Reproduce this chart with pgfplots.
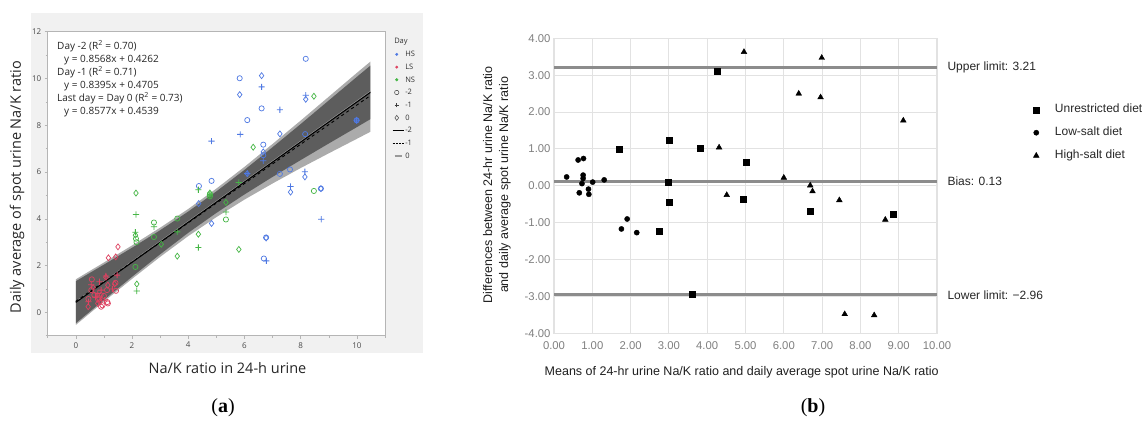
\documentclass[border=0pt]{standalone}
\usepackage{fontspec}
\setmainfont{Liberation Sans}
\newfontfamily\jmpfont{Open Sans}
\newfontfamily\capfont{Liberation Serif}
\usepackage{pgfplots}
\pgfplotsset{compat=1.18}

\definecolor{hsBlue}{HTML}{4F79E3}
\definecolor{lsRed}{HTML}{DE4160}
\definecolor{nsGreen}{HTML}{45B645}
\definecolor{panelBg}{HTML}{F1F1F1}
\definecolor{frameA}{HTML}{B5B5B5}
\definecolor{tickA}{HTML}{4A4A4A}
\definecolor{gridB}{HTML}{E2E2E2}
\definecolor{tickB}{HTML}{7F7F7F}
\definecolor{limitB}{HTML}{8C8C8C}

% filled cross, so the plus marks keep their colour when rasterised
\pgfdeclareplotmark{pluscross}{%
  \pgfpathrectangle{\pgfqpoint{-\pgfplotmarksize}{-0.4pt}}{\pgfqpoint{2\pgfplotmarksize}{0.8pt}}%
  \pgfpathrectangle{\pgfqpoint{-0.4pt}{-\pgfplotmarksize}}{\pgfqpoint{0.8pt}{2\pgfplotmarksize}}%
  \pgfusepathqfill}

\pgfplotsset{
  ptA/.style={forget plot, only marks, color=#1, line width=0.7pt, mark options={solid, draw=#1, fill=none}},
  circA/.style={ptA=#1, mark=o, mark size=2.6pt},
  plusA/.style={ptA=#1, mark=pluscross, mark size=3.1pt, mark options={solid, draw=none, fill=#1}},
  diamA/.style={ptA=#1, mark=diamond, mark size=3pt},
  ptB/.style={only marks, black,
    legend image code/.code={\draw[##1, mark repeat=2, mark phase=2] plot coordinates {(0pt,0pt)(5pt,0pt)(10pt,0pt)}; \path (22pt,0pt);}},
}

\begin{document}
\begin{tikzpicture}
\path[use as bounding box] (0pt,0pt) rectangle (1142pt,421pt);
\fill[panelBg] (31pt,68pt) rectangle (423pt,408pt);

% ---------- (a) regression by day ----------
\begin{axis}[
  at={(47.7pt,85.3pt)}, anchor=south west,
  scale only axis, width=337.3pt, height=304pt,
  xmin=-1, xmax=11, ymin=-1, ymax=12,
  xtick={0,2,...,10}, ytick={0,2,...,12},
  minor xtick={-1,1,...,11}, minor ytick={-1,1,...,11},
  tick align=outside, xtick pos=left, ytick pos=left,
  major tick length=3pt, minor tick length=2pt,
  tick style={frameA, line width=0.5pt},
  axis line style={frameA, line width=0.6pt},
  axis background/.style={fill=white},
  tick label style={font=\jmpfont\fontsize{8}{9}\selectfont, text=tickA},
  /pgf/number format/assume math mode=true,
  xlabel={Na/K ratio in 24-h urine},
  ylabel={Daily average of spot urine Na/K ratio},
  label style={font=\jmpfont\fontsize{14.5}{16}\selectfont, text=black!85},
  xlabel style={at={(axis description cs:0.533,0)}, anchor=center, yshift=-32.3pt},
  ylabel style={at={(axis description cs:-0.091,0.489)}, anchor=center},
  legend style={at={(1.012,0.99)}, anchor=north west, draw=none, fill=none,
    font=\jmpfont\fontsize{7.5}{8}\selectfont, text=black!80, row sep=3.2pt,
    nodes={inner sep=1pt, text height=6pt, text depth=1.5pt}},
  legend cell align=left,
]
% HS (blue)
\addplot[circA=hsBlue] coordinates {(4.38,5.40)(4.83,5.62)(5.83,10.01)(6.10,8.22)(6.61,8.72)(6.67,7.17)(6.67,6.72)(7.26,5.92)(7.62,6.11)(8.18,10.84)(8.16,7.62)(9.99,8.21)(8.72,5.29)(6.77,3.20)(6.69,2.30)};
\addplot[plusA=hsBlue] coordinates {(4.83,7.32)(5.85,7.61)(6.61,9.64)(7.26,8.66)(8.18,9.28)(6.67,6.48)(7.64,5.38)(8.15,6.01)(8.73,3.98)(6.78,2.20)(9.99,8.21)(6.10,5.93)};
\addplot[diamA=hsBlue] coordinates {(5.83,9.31)(6.61,10.12)(7.26,7.63)(8.18,9.11)(6.67,6.86)(7.64,5.14)(8.15,5.79)(8.72,5.29)(9.99,8.21)(6.10,5.93)(4.37,4.65)(4.83,3.80)(6.77,3.18)};
% NS (green)
\addplot[circA=nsGreen] coordinates {(2.14,3.15)(2.16,3.00)(2.12,1.94)(2.78,3.84)(2.78,3.22)(3.61,4.01)(4.77,4.96)(5.34,3.97)(8.47,5.19)(4.77,5.05)};
\addplot[plusA=nsGreen] coordinates {(2.14,4.18)(2.12,3.42)(2.17,0.91)(2.78,3.66)(3.61,3.44)(4.36,2.77)(4.36,5.24)(5.34,4.29)(5.80,5.55)(4.77,5.02)};
\addplot[diamA=nsGreen] coordinates {(2.14,5.10)(2.12,3.30)(2.17,1.21)(3.04,2.91)(3.61,2.40)(4.36,3.34)(4.77,5.10)(5.34,4.70)(5.80,2.69)(6.31,7.06)(8.47,9.24)};
% LS (red)
\addplot[circA=lsRed] coordinates {(0.57,1.41)(1.41,1.26)(1.11,0.95)(1.43,0.92)(0.45,0.57)(0.90,0.24)(1.14,0.38)(1.12,0.44)(0.66,0.74)(0.84,0.60)(0.55,0.95)(0.80,0.55)(1.00,0.70)(0.95,0.30)};
\addplot[plusA=lsRed] coordinates {(0.55,1.18)(0.84,1.31)(1.47,1.59)(1.02,0.52)(0.78,0.81)(1.07,1.55)(0.70,0.65)(0.45,0.45)(1.30,1.00)(0.90,0.95)};
\addplot[diamA=lsRed] coordinates {(1.50,2.80)(1.16,2.33)(1.42,2.37)(1.38,1.21)(0.44,0.24)(0.78,0.38)(0.90,0.74)(1.14,1.16)(1.07,1.50)(0.62,1.05)(0.85,0.45)};
% confidence bands (outer union, inner overlap)
\addplot[forget plot, draw=none, fill=black, fill opacity=0.33] coordinates {
  (0,1.41)(1,2.13)(2,2.86)(3,3.62)(4,4.42)(5,5.29)(6,6.22)(7,7.20)(8,8.20)(9,9.22)(10,10.24)(10.48,10.72)
  (10.48,7.72)(10,7.42)(9,6.80)(8,6.17)(7,5.51)(6,4.82)(5,4.07)(4,3.26)(3,2.37)(2,1.43)(1,0.46)(0,-0.54)};
\addplot[forget plot, draw=none, fill=black, fill opacity=0.45] coordinates {
  (0,1.33)(1,2.04)(2,2.76)(3,3.51)(4,4.31)(5,5.17)(6,6.09)(7,7.06)(8,8.05)(9,9.06)(10,10.07)(10.48,10.55)
  (10.48,8.26)(10,7.92)(9,7.22)(8,6.51)(7,5.79)(6,5.04)(5,4.25)(4,3.40)(3,2.48)(2,1.52)(1,0.53)(0,-0.47)};
% fitted lines
\addplot[forget plot, black!40, line width=1pt] coordinates {(0,0.4539)(10.48,9.442)};
\addplot[forget plot, black, line width=0.9pt, dashed] coordinates {(0,0.4705)(10.48,9.268)};
\addplot[forget plot, black, line width=1.1pt] coordinates {(0,0.4262)(10.48,9.406)};

\node[anchor=north west, align=left, inner sep=0pt, font=\jmpfont\fontsize{10}{13}\selectfont, text=black!85]
  at (rel axis cs:0.0276,0.972)
  {Day -2 (R\textsuperscript{2} = 0.70)\\\hspace{7pt}y = 0.8568x + 0.4262\\
   Day -1 (R\textsuperscript{2} = 0.71)\\\hspace{7pt}y = 0.8395x + 0.4705\\
   Last day = Day 0 (R\textsuperscript{2} = 0.73)\\\hspace{7pt}y = 0.8577x + 0.4539};

\addlegendimage{legend image code/.code={\path (0pt,0pt) (11pt,0pt);}}
\addlegendentry{\hspace{-11pt}Day}
\addlegendimage{legend image code/.code={\fill[hsBlue] (4pt,0pt) circle (1.3pt); \path (11pt,0pt);}}
\addlegendentry{HS}
\addlegendimage{legend image code/.code={\fill[lsRed] (4pt,0pt) circle (1.3pt); \path (11pt,0pt);}}
\addlegendentry{LS}
\addlegendimage{legend image code/.code={\fill[nsGreen] (4pt,0pt) circle (1.3pt); \path (11pt,0pt);}}
\addlegendentry{NS}
\addlegendimage{legend image code/.code={\draw[black!75, line width=0.5pt] (4pt,0pt) circle (2.2pt); \path (11pt,0pt);}}
\addlegendentry{-2}
\addlegendimage{legend image code/.code={\draw[black!75, line width=0.5pt] (1.8pt,0pt)--(6.2pt,0pt) (4pt,-2.2pt)--(4pt,2.2pt); \path (11pt,0pt);}}
\addlegendentry{-1}
\addlegendimage{legend image code/.code={\draw[black!75, line width=0.5pt] (4pt,2.5pt)--(5.9pt,0pt)--(4pt,-2.5pt)--(2.1pt,0pt)--cycle; \path (11pt,0pt);}}
\addlegendentry{0}
\addlegendimage{legend image code/.code={\draw[black, line width=1pt] (0pt,0pt)--(11pt,0pt);}}
\addlegendentry{-2}
\addlegendimage{legend image code/.code={\draw[black, line width=0.9pt, dash pattern=on 2pt off 1.2pt] (0pt,0pt)--(11pt,0pt);}}
\addlegendentry{-1}
\addlegendimage{legend image code/.code={\draw[black!40, line width=1.2pt] (2pt,0pt)--(9pt,0pt); \path (0pt,0pt) (11pt,0pt);}}
\addlegendentry{0}
\end{axis}

% ---------- (b) Bland-Altman ----------
\begin{axis}[
  at={(554pt,87.7pt)}, anchor=south west,
  scale only axis, width=383pt, height=295pt,
  xmin=0, xmax=10, ymin=-4, ymax=4,
  xtick={0,1,...,10}, ytick={-4,-3,...,4},
  grid=major, major grid style={gridB, line width=1.1pt},
  axis line style={gridB, line width=1.1pt},
  tick style={draw=none},
  tick label style={font=\fontsize{11.3}{12}\selectfont, text=tickB},
  /pgf/number format/assume math mode=true,
  xticklabel style={yshift=-5pt, /pgf/number format/.cd, fixed, fixed zerofill, precision=2},
  yticklabel style={/pgf/number format/.cd, fixed, fixed zerofill, precision=2},
  xlabel={Means of 24-hr urine Na/K ratio and daily average spot urine Na/K ratio},
  ylabel={Differences between 24-hr urine Na/K ratio\\and daily average spot urine Na/K ratio},
  label style={font=\fontsize{12.5}{16}\selectfont, text=black!88},
  xlabel style={at={(axis description cs:0.49,0)}, anchor=center, yshift=-38.7pt},
  ylabel style={at={(axis description cs:-0.149,0.503)}, anchor=center, align=center},
  legend style={at={(1.243,0.79)}, anchor=north west, draw=none, fill=none,
    font=\fontsize{12}{14}\selectfont, text=black!85, row sep=8.5pt,
    nodes={inner sep=1.5pt, text height=9pt, text depth=2.5pt}},
  legend cell align=left,
  clip=false,
]
\addplot[forget plot, limitB, line width=3pt] coordinates {(0,3.21)(10,3.21)};
\addplot[forget plot, limitB, line width=3pt] coordinates {(0,0.13)(10,0.13)};
\addplot[forget plot, limitB, line width=3pt] coordinates {(0,-2.96)(10,-2.96)};

\addplot[ptB, mark=square*, mark size=3pt] coordinates {
  (1.71,0.98)(3.00,1.24)(3.83,1.03)(4.25,3.11)(2.97,0.09)(3.00,-0.45)(2.74,-1.23)
  (3.62,-2.94)(5.01,0.65)(4.94,-0.35)(6.69,-0.70)(8.86,-0.76)};
\addlegendentry{Unrestricted diet}
\addplot[ptB, mark=*, mark size=2.6pt] coordinates {
  (0.33,0.24)(0.63,0.70)(0.77,0.74)(0.76,0.29)(0.76,0.20)(0.73,0.06)(1.01,0.10)
  (1.31,0.16)(0.66,-0.19)(0.90,-0.09)(0.91,-0.23)(1.76,-1.17)(1.91,-0.90)(2.16,-1.27)};
\addlegendentry{Low-salt diet}
\addplot[ptB, mark=triangle*, mark size=3.3pt] coordinates {
  (4.96,3.63)(4.31,1.04)(4.51,-0.25)(6.99,3.47)(6.39,2.50)(6.96,2.40)(9.12,1.77)
  (6.00,0.22)(6.69,0.01)(6.75,-0.15)(7.45,-0.39)(8.65,-0.92)(7.59,-3.48)(8.36,-3.51)};
\addlegendentry{High-salt diet}

\node[anchor=west, font=\fontsize{12}{14}\selectfont, text=black!85] at (axis cs:10,3.21) [xshift=7pt] {Upper limit: 3.21};
\node[anchor=west, font=\fontsize{12}{14}\selectfont, text=black!85] at (axis cs:10,0.13) [xshift=7pt] {Bias: 0.13};
\node[anchor=west, font=\fontsize{12}{14}\selectfont, text=black!85] at (axis cs:10,-2.96) [xshift=7pt] {Lower limit: −2.96};
\end{axis}

\node[font=\capfont\fontsize{20}{22}\selectfont] at (223pt,13pt) {(\textbf{a})};
\node[font=\capfont\fontsize{20}{22}\selectfont] at (813pt,13pt) {(\textbf{b})};
\end{tikzpicture}
\end{document}
